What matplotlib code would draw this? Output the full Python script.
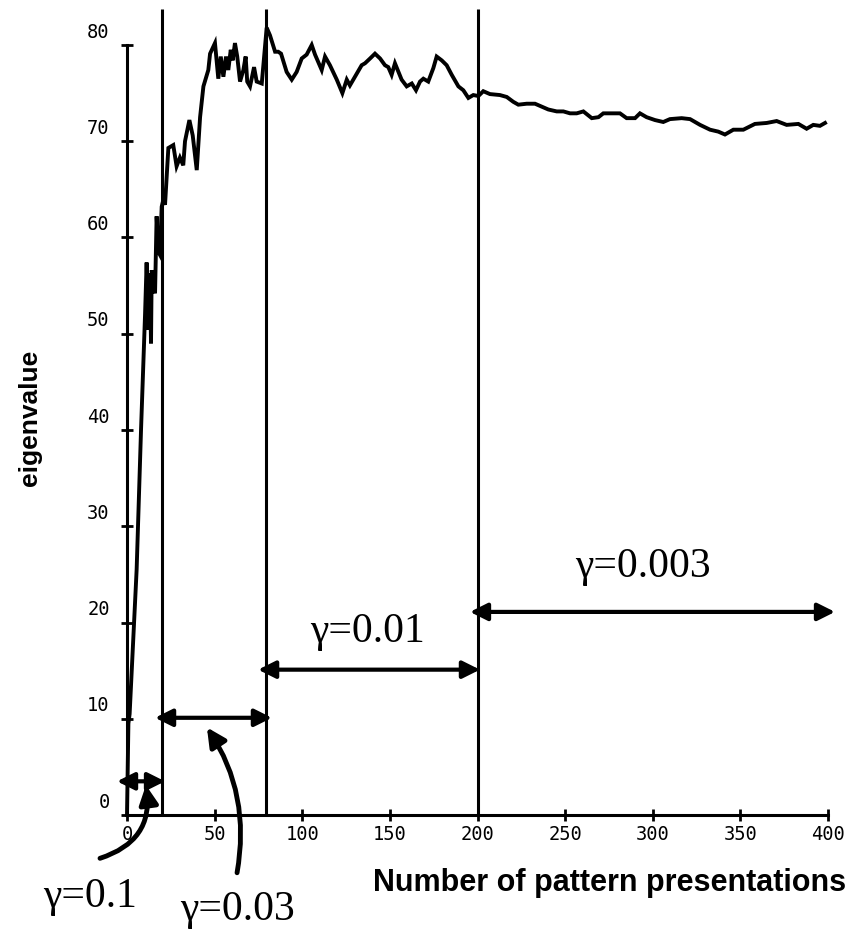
import numpy as np
from matplotlib import pyplot as plt
import matplotlib.transforms as mtransforms

# eigenvalue trace
xs = [0, 0.8, 1.5, 3.6, 5.5, 8, 10.3, 11.2, 12.2, 13.1, 13.7, 14.1, 15.0, 16.0, 16.9,
      17.9, 18.8, 19.8, 20.7, 21.7, 23.6, 26.4, 28.3, 30.2, 32.1, 33.1, 35.6, 37.5,
      39.8, 41.7, 43.6, 46.4, 47.4, 50.2, 52.1, 53.5, 55.0, 56.5, 57.8, 59.2, 60.3,
      61.6, 62.9, 64.5, 66.4, 67.7, 68.6, 70.2, 72.5, 74.0, 76.9, 79.7, 81.6, 84.5,
      86.3, 87.9, 91.1, 94.0, 96.8, 99.7, 102.5, 105.4, 107.3, 111.1, 113.0, 115.8,
      119.7, 122.9, 125.4, 127.2, 130.1, 133.9, 135.8, 138.7, 141.5, 144.4, 147.2,
      149.1, 151.0, 152.9, 156.7, 159.6, 162.5, 164.9, 167.2, 169.1, 171.9, 174.8,
      176.7, 179.6, 182.4, 185.3, 189.1, 191.9, 194.8, 197.6, 200.5, 203.3, 207.1,
      212.8, 216.7, 220.4, 223.3, 228.1, 232.8, 236.6, 240.4, 245.2, 249.0, 252.8,
      256.6, 260.4, 265.2, 269.0, 271.8, 276.6, 281.3, 285.1, 289.9, 292.7, 296.5,
      301.3, 306.0, 309.8, 316.5, 321.3, 327.0, 332.7, 337.4, 341.2, 346.0, 351.7,
      358.3, 365.0, 370.7, 376.4, 383.1, 387.8, 391.6, 395.4, 398.3]
eig = [0, 9.5, 10.5, 18.5, 25.5, 40, 52, 57.4, 50.4, 56.3, 49.0, 56.6, 55.5, 54.2, 62.2,
       58.5, 58.2, 63.2, 63.9, 63.4, 69.3, 69.6, 67.4, 68.3, 67.5, 70.0, 72.2, 70.6,
       67.0, 72.5, 75.7, 77.4, 79.1, 80.2, 76.5, 78.8, 76.7, 78.8, 77.4, 79.5, 78.4,
       80.2, 78.8, 76.2, 77.4, 78.8, 76.2, 75.7, 77.7, 76.2, 76.0, 81.8, 81.0, 79.3,
       79.3, 79.1, 77.2, 76.4, 77.2, 78.6, 79.0, 80.0, 79.0, 77.4, 78.8, 77.9,
       76.4, 75.0, 76.4, 75.8, 76.7, 77.9, 78.1, 78.6, 79.1, 78.6, 77.9,
       77.7, 76.9, 78.1, 76.4, 75.7, 76.0, 75.3, 76.2, 76.5, 76.2, 77.6,
       78.8, 78.4, 77.9, 76.9, 75.7, 75.3, 74.5, 74.8, 74.7, 75.2, 74.9,
       74.8, 74.6, 74.1, 73.8, 73.9, 73.9, 73.6, 73.3, 73.1, 73.1, 72.9,
       72.9, 73.1, 72.4, 72.5, 72.9, 72.9, 72.9, 72.4, 72.4, 72.9, 72.5,
       72.2, 72.0, 72.3, 72.4, 72.3, 71.7, 71.2, 71.0, 70.7, 71.2, 71.2,
       71.8, 71.9, 72.1, 71.7, 71.8, 71.3, 71.7, 71.6, 71.9]

# learning-rate phases
boundaries = [20, 79.5, 200]
phase_spans = [(-5.7, 21.7), (16, 82.7), (74.8, 201.4), (195.7, 404)]
phase_arrow_y = [3.5, 10.1, 15.1, 21.1]
gamma_labels = ['γ=0.1', 'γ=0.03', 'γ=0.01', 'γ=0.003']

xticks = np.arange(0, 401, 50)
yticks = np.arange(0, 81, 10)

fig = plt.figure(figsize=(8.58, 9.3), dpi=100)
ax = fig.add_axes([127 / 858, 115 / 930, 701 / 858, 770 / 930])

ax.plot(xs, eig, color='k', lw=2.8, clip_on=False, solid_joinstyle='miter')
ax.vlines(boundaries, 0, 83.7, color='k', lw=2.2, clip_on=False)

ax.set_xlim(0, 400)
ax.set_ylim(0, 80)
ax.set_xticks(xticks)
ax.set_yticks(yticks)
for s in ['top', 'right']:
    ax.spines[s].set_visible(False)
for s in ['left', 'bottom']:
    ax.spines[s].set_linewidth(2.2)

ax.tick_params(axis='both', direction='inout', width=2, length=9,
               labelsize=13.5, labelfontfamily='DejaVu Sans Mono')
ax.tick_params(axis='y', pad=8)
ax.tick_params(axis='x', pad=3)

# y tick labels sit a bit above their ticks in the original
offset = mtransforms.ScaledTranslation(0, 15 / 100, fig.dpi_scale_trans)
for lab in ax.yaxis.get_majorticklabels():
    lab.set_transform(lab.get_transform() + offset)

ax.text(-0.138, 0.516, 'eigenvalue', transform=ax.transAxes, rotation=90,
        ha='center', va='center', fontsize=19, fontweight='bold',
        family='Liberation Sans')
ax.text(0.689, -0.088, 'Number of pattern presentations', transform=ax.transAxes,
        ha='center', va='center', fontsize=22, fontweight='bold',
        family='Liberation Sans')

# double-headed arrows for each phase
for (x0, x1), y in zip(phase_spans, phase_arrow_y):
    ax.annotate('', xy=(x1, y), xytext=(x0, y), annotation_clip=False,
                arrowprops=dict(arrowstyle='<|-|>', color='k', lw=3,
                                mutation_scale=26, shrinkA=0, shrinkB=0))

serif = dict(fontsize=30, family='Liberation Serif', ha='center', va='baseline')
ax.text(-21.1, -9.56, gamma_labels[0], **serif)
ax.text(63.3, -10.9, gamma_labels[1], **serif)
ax.text(137.5, 18.0, gamma_labels[2], **serif)
ax.text(294.4, 24.7, gamma_labels[3], **serif)

# curved pointers from the lower labels
ax.annotate('', xy=(10.8, 3.1), xytext=(-15.4, -4.5), annotation_clip=False,
            arrowprops=dict(arrowstyle='-|>', color='k', lw=3.5, mutation_scale=28,
                            connectionstyle='arc3,rad=0.42', shrinkA=0, shrinkB=0))
ax.annotate('', xy=(45.6, 9.1), xytext=(62.8, -6.0), annotation_clip=False,
            arrowprops=dict(arrowstyle='-|>', color='k', lw=3.5, mutation_scale=28,
                            connectionstyle='arc3,rad=0.2', shrinkA=0, shrinkB=0))

fig.savefig('out.png', dpi=100)
